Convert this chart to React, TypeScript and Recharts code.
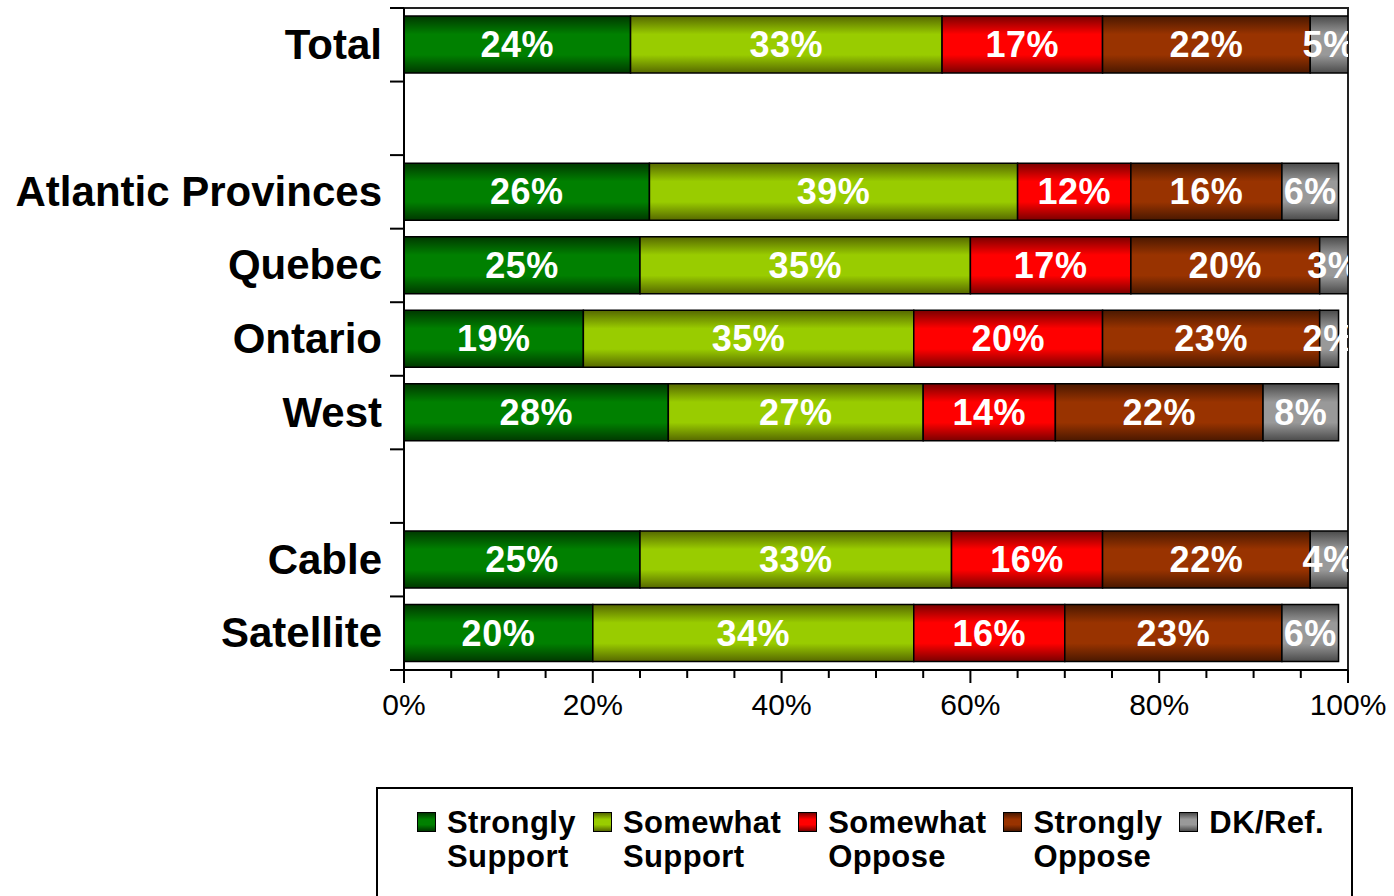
import React from "react";
import {
  BarChart,
  Bar,
  XAxis,
  YAxis,
  LabelList,
  ReferenceArea,
} from "recharts";

const rowKeys = ["total", "gap1", "atlantic", "quebec", "ontario", "west", "gap2", "cable", "satellite"];
const rowLabels = ["Total", "", "Atlantic Provinces", "Quebec", "Ontario", "West", "", "Cable", "Satellite"];

const stronglySupport = [24, null, 26, 25, 19, 28, null, 25, 20];
const somewhatSupport = [33, null, 39, 35, 35, 27, null, 33, 34];
const somewhatOppose = [17, null, 12, 17, 20, 14, null, 16, 16];
const stronglyOppose = [22, null, 16, 20, 23, 22, null, 22, 23];
const dkRef = [5, null, 6, 3, 2, 8, null, 4, 6];

const xTicks = [0, 5, 10, 15, 20, 25, 30, 35, 40, 45, 50, 55, 60, 65, 70, 75, 80, 85, 90, 95, 100];

const seriesKeys = ["ss", "sws", "swo", "so", "dk"];
const seriesNames = ["Strongly\nSupport", "Somewhat\nSupport", "Somewhat\nOppose", "Strongly\nOppose", "DK/Ref."];
const seriesMid = ["#008000", "#99cc00", "#ff0000", "#993300", "#999999"];
const seriesEdge = ["#003800", "#566800", "#7a0000", "#4a1800", "#4a4a4a"];

const rows = rowKeys.map((key, i) => ({
  key,
  ss: stronglySupport[i],
  sws: somewhatSupport[i],
  swo: somewhatOppose[i],
  so: stronglyOppose[i],
  dk: dkRef[i],
}));

const FONT = "'Liberation Sans', Arial, sans-serif";
const W = 1394;
const H = 896;
const M = { top: 8, right: 46, left: 0, bottom: 166 };
const Y_AXIS_W = 404;
const PLOT_LEFT = M.left + Y_AXIS_W;
const PLOT_W = W - PLOT_LEFT - M.right;
const PLOT_H = H - M.top - M.bottom - 60;
const HALF_BAND = PLOT_H / rowKeys.length / 2;

function XTick(props: any) {
  const { x, y, payload } = props;
  const major = payload.value % 20 === 0;
  return (
    <g>
      <line x1={x} x2={x} y1={y} y2={y + (major ? 13 : 8)} stroke="#000" strokeWidth={2} />
      {major && (
        <text x={x} y={y + 45} textAnchor="middle" fontSize={30} fontFamily={FONT} fill="#000">
          {payload.value}%
        </text>
      )}
    </g>
  );
}

function YTick(props: any) {
  const { x, y, payload, index } = props;
  const half = payload && typeof payload.offset === "number" && payload.offset > 0 ? payload.offset : HALF_BAND;
  const label = rowLabels[rowKeys.indexOf(payload.value)];
  return (
    <g>
      <line x1={x - 14} x2={x} y1={y - half} y2={y - half} stroke="#000" strokeWidth={2} />
      {index === rowKeys.length - 1 && (
        <line x1={x - 14} x2={x} y1={y + half} y2={y + half} stroke="#000" strokeWidth={2} />
      )}
      {label && (
        <text x={x - 22} y={y} dy={14} textAnchor="end" fontSize={42} fontWeight="bold" fontFamily={FONT} fill="#000">
          {label}
        </text>
      )}
    </g>
  );
}

function BarLabel(props: any) {
  const vb = props.viewBox || {};
  const bx = props.x ?? vb.x;
  const by = props.y ?? vb.y;
  const bw = props.width ?? vb.width;
  const bh = props.height ?? vb.height;
  const { value } = props;
  if (value == null || bx == null) return null;
  return (
    <text
      x={Number(bx) + Number(bw) / 2}
      y={Number(by) + Number(bh) / 2}
      dy={12.5}
      textAnchor="middle"
      fontSize={36}
      fontWeight="bold"
      fontFamily={FONT}
      letterSpacing={0.5}
      fill="#fff"
      clipPath="url(#plot-clip)"
    >
      {value}%
    </text>
  );
}

function LegendBox() {
  return (
    <div
      style={{
        position: "absolute",
        left: 376,
        top: 787,
        width: 977,
        height: 124,
        border: "2px solid #000",
        boxSizing: "border-box",
        background: "#fff",
        display: "flex",
        gap: 17,
        paddingLeft: 39,
        paddingTop: 17,
      }}
    >
      {seriesNames.map((name, i) => (
        <div key={name} style={{ display: "flex", alignItems: "flex-start" }}>
          <div
            style={{
              width: 17,
              height: 18,
              marginTop: 6,
              marginRight: 11,
              border: "1px solid #000",
              background: `linear-gradient(to bottom, ${seriesEdge[i]}, ${seriesMid[i]} 35%, ${seriesMid[i]} 65%, ${seriesEdge[i]})`,
            }}
          />
          <div
            style={{
              fontSize: 31,
              fontWeight: "bold",
              lineHeight: "34px",
              letterSpacing: 0.4,
              whiteSpace: "pre-line",
              color: "#000",
            }}
          >
            {name}
          </div>
        </div>
      ))}
    </div>
  );
}

export default function App() {
  return (
    <div
      style={{
        position: "absolute",
        left: 0,
        top: 0,
        width: W,
        height: H,
        overflow: "hidden",
        background: "#fff",
        fontFamily: FONT,
      }}
    >
      <BarChart
        width={W}
        height={H}
        data={rows}
        layout="vertical"
        margin={M}
        barCategoryGap="11%"
      >
        <defs>
          {seriesKeys.map((k, i) => (
            <linearGradient key={k} id={`grad-${k}`} x1="0" y1="0" x2="0" y2="1">
              <stop offset="0%" stopColor={seriesEdge[i]} />
              <stop offset="32%" stopColor={seriesMid[i]} />
              <stop offset="68%" stopColor={seriesMid[i]} />
              <stop offset="100%" stopColor={seriesEdge[i]} />
            </linearGradient>
          ))}
          <clipPath id="plot-clip">
            <rect x={PLOT_LEFT} y={0} width={PLOT_W} height={H} />
          </clipPath>
        </defs>
        <XAxis
          type="number"
          domain={[0, 100]}
          allowDataOverflow
          ticks={xTicks}
          interval={0}
          tickSize={0}
          tickMargin={0}
          tick={<XTick />}
          height={60}
          axisLine={{ stroke: "#000", strokeWidth: 2 }}
        />
        <YAxis
          type="category"
          dataKey="key"
          width={Y_AXIS_W}
          interval={0}
          tickSize={0}
          tickMargin={0}
          tick={<YTick />}
          axisLine={{ stroke: "#000", strokeWidth: 2 }}
        />
        {seriesKeys.map((k) => (
          <Bar
            key={k}
            dataKey={k}
            stackId="a"
            fill={`url(#grad-${k})`}
            stroke="#000"
            strokeWidth={1.5}
            isAnimationActive={false}
          >
            <LabelList dataKey={k} content={<BarLabel />} />
          </Bar>
        ))}
        <ReferenceArea x1={0} x2={100} fill="none" stroke="#222" strokeWidth={2} ifOverflow="visible" />
      </BarChart>
      <LegendBox />
    </div>
  );
}
